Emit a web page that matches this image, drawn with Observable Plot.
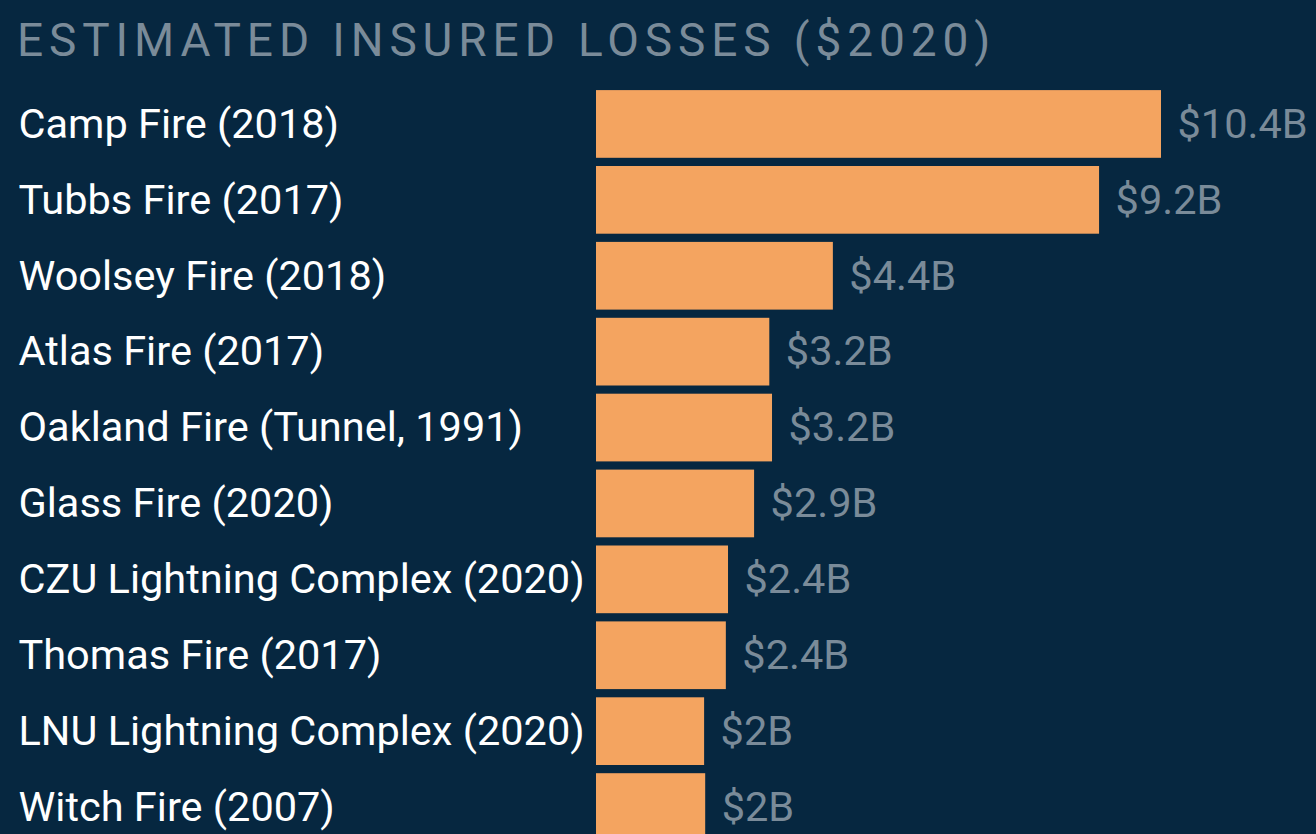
<!DOCTYPE html>
<html>
<head>
<meta charset="utf-8">
<script src="https://cdn.jsdelivr.net/npm/d3@7"></script>
<script src="https://cdn.jsdelivr.net/npm/@observablehq/plot@0.6"></script>
<style>
  html, body { margin: 0; padding: 0; background: #062740; overflow: hidden; width: 1316px; height: 834px; }
  #title { position: absolute; left: 17px; top: 17px; font-family: Roboto, sans-serif; font-size: 46px; font-weight: 400; letter-spacing: 5.9px; color: #7a8b99; white-space: nowrap; line-height: 1; }
  #chart { position: absolute; left: 0; top: 0; }
</style>
</head>
<body>
<div id="title">ESTIMATED INSURED LOSSES ($2020)</div>
<div id="chart"></div>
<script>
const fires = ["Camp Fire (2018)", "Tubbs Fire (2017)", "Woolsey Fire (2018)", "Atlas Fire (2017)", "Oakland Fire (Tunnel, 1991)", "Glass Fire (2020)", "CZU Lightning Complex (2020)", "Thomas Fire (2017)", "LNU Lightning Complex (2020)", "Witch Fire (2007)"];
const losses = [10.4, 9.26, 4.36, 3.19, 3.24, 2.91, 2.43, 2.39, 1.99, 2.01];
const valueLabels = ["$10.4B", "$9.2B", "$4.4B", "$3.2B", "$3.2B", "$2.9B", "$2.4B", "$2.4B", "$2B", "$2B"];

const data = fires.map((f, i) => ({fire: f, loss: losses[i], label: valueLabels[i]}));

const chart = Plot.plot({
  width: 1316,
  height: 845,
  marginLeft: 596,
  marginRight: 155,
  marginTop: 86,
  marginBottom: 0,
  style: {background: "transparent", fontFamily: "Roboto, sans-serif"},
  x: {domain: [0, 10.4], axis: null},
  y: {domain: fires, axis: null, paddingInner: 0.108, paddingOuter: 0.054, round: false},
  marks: [
    Plot.barX(data, {y: "fire", x: "loss", fill: "#f4a460"}),
    Plot.text(data, {y: "fire", text: "fire", frameAnchor: "left", dx: -578, textAnchor: "start", fill: "#ffffff", fontSize: 41.5}),
    Plot.text(data, {y: "fire", x: "loss", text: "label", dx: 16, textAnchor: "start", fill: "#7a8b99", fontSize: 41.5})
  ]
});
document.getElementById("chart").appendChild(chart);
</script>
</body>
</html>
